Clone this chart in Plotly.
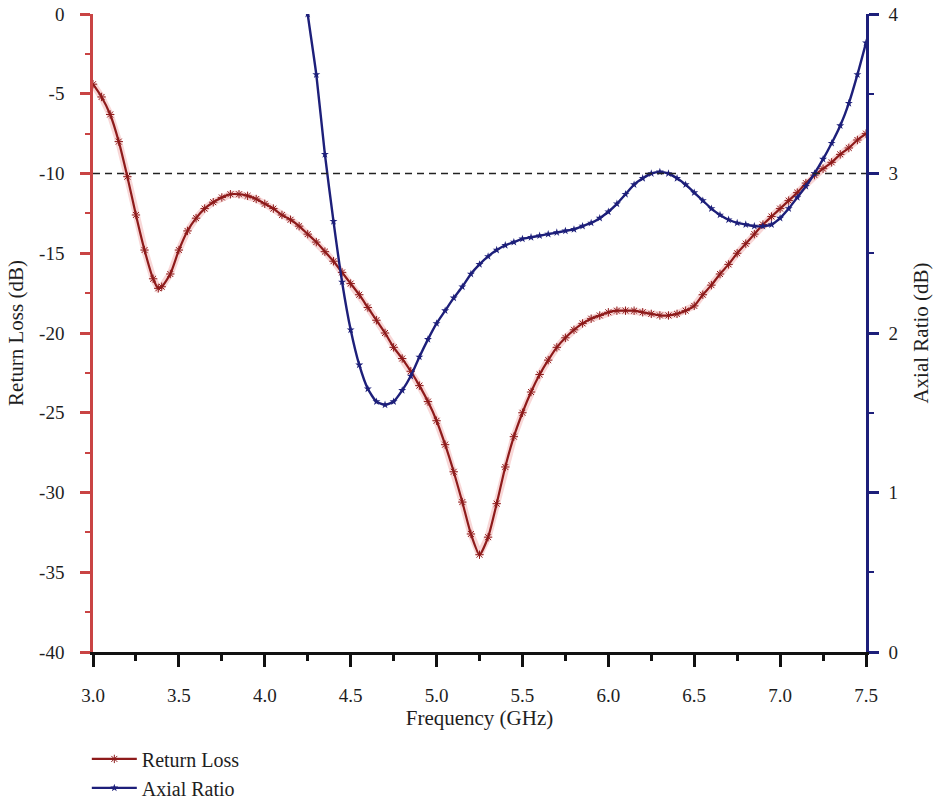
import plotly.graph_objects as go

# Frequency sweep (GHz)
freq_rl = [3.00, 3.05, 3.10, 3.15, 3.20, 3.25, 3.30, 3.35, 3.38, 3.40, 3.45, 3.50,
           3.55, 3.60, 3.65, 3.70, 3.75, 3.80, 3.85, 3.90, 3.95, 4.00, 4.05, 4.10,
           4.15, 4.20, 4.25, 4.30, 4.35, 4.40, 4.45, 4.50, 4.55, 4.60, 4.65, 4.70,
           4.75, 4.80, 4.85, 4.90, 4.95, 5.00, 5.05, 5.10, 5.15, 5.20, 5.25, 5.30,
           5.35, 5.40, 5.45, 5.50, 5.55, 5.60, 5.65, 5.70, 5.75, 5.80, 5.85, 5.90,
           5.95, 6.00, 6.05, 6.10, 6.15, 6.20, 6.25, 6.30, 6.35, 6.40, 6.45, 6.50,
           6.55, 6.60, 6.65, 6.70, 6.75, 6.80, 6.85, 6.90, 6.95, 7.00, 7.05, 7.10,
           7.15, 7.20, 7.25, 7.30, 7.35, 7.40, 7.45, 7.50]
# Return loss (dB)
return_loss = [-4.4, -5.2, -6.3, -8.0, -10.2, -12.6, -14.8, -16.6, -17.2, -17.1, -16.3, -14.8,
               -13.6, -12.8, -12.2, -11.8, -11.5, -11.3, -11.3, -11.4, -11.6, -11.9, -12.2, -12.6,
               -12.9, -13.3, -13.8, -14.3, -14.9, -15.5, -16.2, -16.9, -17.6, -18.4, -19.2, -20.0,
               -20.9, -21.6, -22.4, -23.3, -24.3, -25.5, -27.0, -28.7, -30.6, -32.6, -33.9, -32.8,
               -30.7, -28.4, -26.5, -25.0, -23.7, -22.6, -21.7, -20.9, -20.3, -19.8, -19.4, -19.1,
               -18.9, -18.7, -18.6, -18.6, -18.6, -18.7, -18.8, -18.9, -18.9, -18.8, -18.6, -18.3,
               -17.6, -17.0, -16.3, -15.7, -15.0, -14.4, -13.8, -13.2, -12.7, -12.2, -11.7, -11.2,
               -10.6, -10.1, -9.7, -9.3, -8.8, -8.4, -7.9, -7.5]

freq_ar = [4.24, 4.25, 4.30, 4.35, 4.40, 4.45, 4.50, 4.55, 4.60, 4.65, 4.70, 4.75, 4.80,
           4.85, 4.90, 4.95, 5.00, 5.05, 5.10, 5.15, 5.20, 5.25, 5.30, 5.35, 5.40,
           5.45, 5.50, 5.55, 5.60, 5.65, 5.70, 5.75, 5.80, 5.85, 5.90, 5.95, 6.00,
           6.05, 6.10, 6.15, 6.20, 6.25, 6.30, 6.35, 6.40, 6.45, 6.50, 6.55, 6.60,
           6.65, 6.70, 6.75, 6.80, 6.85, 6.90, 6.95, 7.00, 7.05, 7.10, 7.15, 7.20,
           7.25, 7.30, 7.35, 7.40, 7.45, 7.50]
# Axial ratio (dB)
axial_ratio = [4.10, 4.00, 3.62, 3.12, 2.70, 2.32, 2.02, 1.80, 1.65, 1.57, 1.55, 1.57, 1.64,
               1.73, 1.85, 1.96, 2.06, 2.14, 2.22, 2.29, 2.37, 2.43, 2.48, 2.52, 2.55,
               2.57, 2.59, 2.60, 2.61, 2.62, 2.63, 2.64, 2.65, 2.67, 2.69, 2.72, 2.76,
               2.81, 2.87, 2.93, 2.97, 3.00, 3.01, 3.00, 2.97, 2.93, 2.88, 2.83, 2.78,
               2.74, 2.71, 2.69, 2.68, 2.67, 2.67, 2.68, 2.72, 2.78, 2.85, 2.92, 3.00,
               3.09, 3.19, 3.30, 3.44, 3.62, 3.82]

# Tick labels
x_ticks = [3.0, 3.5, 4.0, 4.5, 5.0, 5.5, 6.0, 6.5, 7.0, 7.5]
x_ticktext = ["3.0", "3.5", "4.0", "4.5", "5.0", "5.5", "6.0", "6.5", "7.0", "7.5"]
rl_ticks = [-40, -35, -30, -25, -20, -15, -10, -5, 0]
rl_ticktext = ["-40", "-35", "-30", "-25", "-20", "-15", "-10", "-5", "0"]
ar_ticks = [0, 1, 2, 3, 4]
ar_ticktext = ["0", "1", "2", "3", "4"]

threshold_db = -10

FONT = "Liberation Serif"
TXT = "#1e1e1e"
RED = "#8e1b1b"
RED_MARK = "#e36b6b"
RED_AXIS = "#c94444"
NAVY = "#1d1f7a"

fig = go.Figure()

# soft halo under the return-loss curve
fig.add_trace(go.Scatter(x=freq_rl, y=return_loss, mode="lines",
                         line=dict(color="rgba(230,110,110,0.28)", width=7),
                         showlegend=False, hoverinfo="skip"))
fig.add_trace(go.Scatter(x=freq_rl, y=return_loss, mode="lines+markers", name="Return Loss",
                         legendgroup="rl",
                         line=dict(color=RED, width=2.2, shape="spline", smoothing=0.6),
                         marker=dict(symbol="asterisk-open", size=7,
                                     line=dict(color=RED_MARK, width=1))))
fig.add_trace(go.Scatter(x=freq_ar, y=axial_ratio, mode="lines+markers", name="Axial Ratio",
                         legendgroup="ar", yaxis="y2",
                         line=dict(color=NAVY, width=2.4, shape="spline", smoothing=0.6),
                         marker=dict(symbol="star", size=6, color=NAVY)))

# -10 dB reference line
fig.add_shape(type="line", xref="paper", x0=0, x1=1, yref="y", y0=threshold_db, y1=threshold_db,
              line=dict(color="#222", width=1.6, dash="7px,5px"))

tickfont = dict(family=FONT, size=19, color=TXT)
titlefont = dict(family=FONT, size=21, color=TXT)

fig.update_layout(
    width=935, height=808,
    margin=dict(l=93, r=69, t=14, b=156, autoexpand=False),
    paper_bgcolor="white", plot_bgcolor="white",
    font=dict(family=FONT, size=19, color=TXT),
    xaxis=dict(range=[3, 7.5], tickvals=x_ticks, ticktext=x_ticktext, automargin=False,
               ticks="outside", ticklen=12, tickwidth=2.5, tickcolor="#111",
               ticklabelstandoff=12,
               minor=dict(dtick=0.25, tick0=3, ticks="outside", ticklen=6, tickwidth=2.5,
                          tickcolor="#111"),
               showline=True, linecolor="#111", linewidth=2.5, showgrid=False, zeroline=False,
               tickfont=tickfont,
               title=dict(text="Frequency (GHz)", font=titlefont, standoff=6)),
    xaxis2=dict(range=[3, 7.5], overlaying="x", side="top", tickvals=x_ticks, automargin=False,
                ticks="inside", ticklen=13, tickwidth=2.5, tickcolor="#111",
                minor=dict(dtick=0.25, tick0=3, ticks="inside", ticklen=7, tickwidth=2.5,
                           tickcolor="#111"),
                showticklabels=False, showline=True, linecolor="#111", linewidth=2.5,
                showgrid=False, zeroline=False),
    yaxis=dict(range=[-40, 0], tickvals=rl_ticks, ticktext=rl_ticktext, automargin=False,
               ticks="outside", ticklen=10, tickwidth=2.5, tickcolor=RED_AXIS,
               ticklabelstandoff=12,
               minor=dict(dtick=2.5, tick0=0, ticks="outside", ticklen=5, tickwidth=2,
                          tickcolor=RED_AXIS),
               showline=True, linecolor=RED_AXIS, linewidth=2.5, showgrid=False, zeroline=False,
               tickfont=tickfont,
               title=dict(text="Return Loss (dB)", font=titlefont, standoff=10)),
    yaxis2=dict(range=[0, 4], tickvals=ar_ticks, ticktext=ar_ticktext, automargin=False,
                overlaying="y", side="right", anchor="x",
                ticks="outside", ticklen=10, tickwidth=2.5, tickcolor=NAVY,
                ticklabelstandoff=6,
                minor=dict(dtick=0.5, tick0=0, ticks="outside", ticklen=5, tickwidth=2,
                           tickcolor=NAVY),
                showline=True, linecolor=NAVY, linewidth=2.5, showgrid=False, zeroline=False,
                tickfont=tickfont,
                title=dict(text="Axial Ratio (dB)", font=titlefont, standoff=16)),
    legend=dict(x=-0.008, y=-0.137, xanchor="left", yanchor="top", itemwidth=45,
                font=dict(family=FONT, size=20, color=TXT),
                bgcolor="rgba(0,0,0,0)", tracegroupgap=0),
    showlegend=True,
)

fig.write_html("out.html")
